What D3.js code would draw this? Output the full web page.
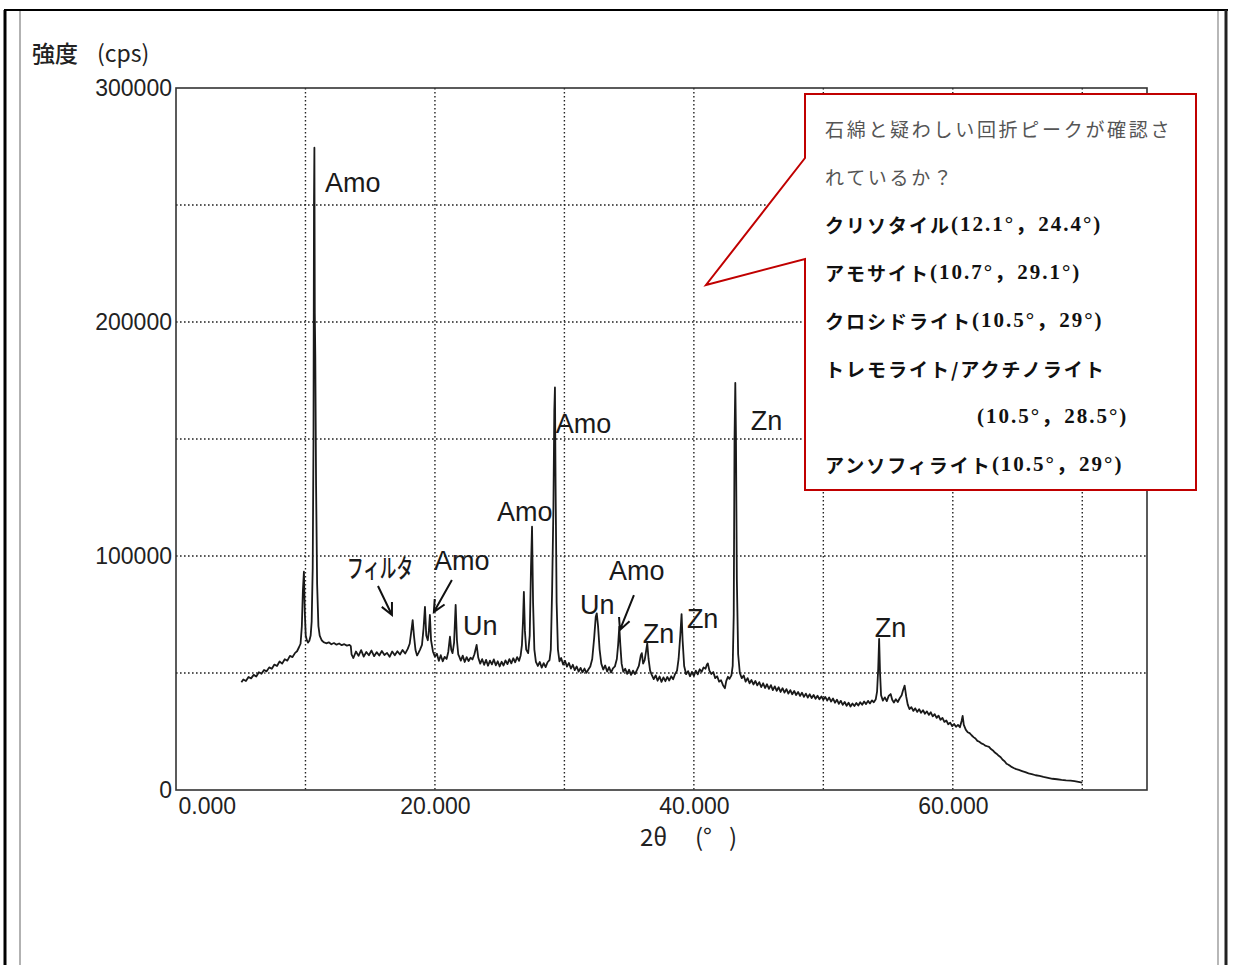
<!DOCTYPE html>
<html>
<head>
<meta charset="utf-8">
<script src="https://cdn.jsdelivr.net/npm/d3@7/dist/d3.min.js"></script>
<style>
  body { margin: 0; background: #fff; }
  svg { display: block; }
  .tick-label { font-family: "Liberation Sans", Arial, sans-serif; font-size: 23px; fill: #222; }
  .peak-label { font-family: "Liberation Sans", Arial, sans-serif; font-size: 27px; fill: #1a1a1a; }
  .note { font-family: "Noto Sans CJK JP", sans-serif; font-size: 19px; }
</style>
</head>
<body>
<div id="chart"></div>
<script>
// diffraction pattern (2theta in degrees, intensity in cps)
var twoTheta = [
  5.05,5.2,5.4,5.6,5.8,6.0,6.2,6.4,6.6,6.8,
  7.0,7.2,7.4,7.6,7.8,8.0,8.2,8.4,8.6,8.8,
  9.0,9.2,9.35,9.5,9.62,9.72,9.8,9.88,9.95,10.02,
  10.1,10.2,10.3,10.4,10.48,10.56,10.62,10.66,10.69,10.72,
  10.76,10.82,10.9,11.0,11.1,11.25,11.4,11.6,11.8,12.0,
  12.2,12.4,12.6,12.8,13.0,13.2,13.4,13.5,13.56,13.7,
  13.9,14.1,14.3,14.5,14.7,14.9,15.1,15.3,15.5,15.7,
  15.9,16.1,16.3,16.5,16.7,16.9,17.1,17.3,17.5,17.7,
  17.9,18.05,18.18,18.28,18.38,18.5,18.62,18.72,18.85,19.0,
  19.12,19.23,19.33,19.45,19.53,19.61,19.7,19.85,20.0,20.15,
  20.3,20.45,20.6,20.75,20.9,21.03,21.16,21.26,21.36,21.48,
  21.6,21.7,21.8,21.88,22.0,22.15,22.3,22.45,22.6,22.75,
  22.9,23.05,23.22,23.35,23.5,23.65,23.8,23.95,24.1,24.25,
  24.4,24.55,24.7,24.85,25.0,25.15,25.3,25.45,25.6,25.75,
  25.9,26.05,26.2,26.35,26.5,26.62,26.72,26.8,26.87,26.95,
  27.05,27.2,27.32,27.42,27.5,27.58,27.68,27.8,27.95,28.1,
  28.25,28.4,28.55,28.7,28.85,28.95,29.05,29.15,29.22,29.27,
  29.32,29.4,29.5,29.62,29.75,29.9,30.05,30.2,30.35,30.5,
  30.65,30.8,30.95,31.1,31.25,31.4,31.55,31.7,31.85,32.0,
  32.15,32.3,32.42,32.5,32.6,32.72,32.85,33.0,33.15,33.3,
  33.45,33.6,33.75,33.9,34.05,34.15,34.24,34.32,34.42,34.55,
  34.7,34.85,35.0,35.15,35.3,35.45,35.6,35.75,35.9,35.98,
  36.08,36.2,36.3,36.4,36.5,36.62,36.75,36.9,37.05,37.2,
  37.35,37.5,37.65,37.8,37.95,38.1,38.25,38.4,38.55,38.7,
  38.82,38.95,39.05,39.13,39.25,39.4,39.55,39.7,39.85,40.0,
  40.15,40.3,40.45,40.6,40.75,40.9,41.0,41.08,41.2,41.35,
  41.5,41.65,41.8,41.95,42.1,42.25,42.4,42.5,42.63,42.75,
  42.9,43.0,43.08,43.14,43.2,43.25,43.32,43.42,43.55,43.7,
  43.85,44.0,44.15,44.3,44.45,44.6,44.75,44.9,45.05,45.2,
  45.35,45.5,45.65,45.8,45.95,46.1,46.25,46.4,46.55,46.7,
  46.85,47.0,47.15,47.3,47.45,47.6,47.75,47.9,48.05,48.2,
  48.35,48.5,48.65,48.8,48.95,49.1,49.25,49.4,49.55,49.7,
  49.85,50.0,50.15,50.3,50.45,50.6,50.75,50.9,51.05,51.2,
  51.35,51.5,51.65,51.8,51.95,52.1,52.25,52.4,52.55,52.7,
  52.85,53.0,53.15,53.3,53.45,53.6,53.75,53.9,54.05,54.15,
  54.24,54.31,54.38,54.46,54.6,54.75,54.9,55.05,55.2,55.32,
  55.45,55.6,55.75,55.9,56.05,56.15,56.28,56.4,56.52,56.65,
  56.8,56.95,57.1,57.25,57.4,57.55,57.7,57.85,58.0,58.15,
  58.3,58.45,58.6,58.75,58.9,59.05,59.2,59.35,59.5,59.65,
  59.8,59.95,60.1,60.25,60.4,60.55,60.68,60.76,60.85,61.0,
  61.15,61.3,61.45,61.6,61.75,61.9,62.05,62.2,62.35,62.5,
  62.65,62.8,62.95,63.1,63.25,63.4,63.55,63.7,63.85,64.0,
  64.15,64.3,64.5,64.7,64.9,65.1,65.35,65.6,65.85,66.1,
  66.4,66.7,67.0,67.35,67.7,68.05,68.4,68.75,69.1,69.4,
  69.7,70.0
];
var intensity = [
  46000,47200,46600,48300,47700,49200,48500,50300,49700,51300,
  50700,52400,51800,53600,53000,54900,54000,55900,55300,57300,
  56800,58600,59300,61000,62500,70000,85000,93300,76000,66000,
  64100,63000,63800,66000,72000,95000,150000,253000,274500,204000,
  185000,130000,88000,70000,66000,64000,63200,62700,63100,62300,
  62800,62100,62600,61900,62300,61700,62000,61500,58000,56400,
  59200,57300,59800,57000,59000,57600,59600,57200,58900,57500,
  59400,57700,58600,56900,59200,57600,59300,57900,59800,58300,
  60300,62500,68000,72600,66000,59800,57500,58500,60000,62000,
  69000,78300,66000,64000,68000,74800,64000,59100,57000,58200,
  55200,57600,55000,56900,56000,59000,65500,60000,58500,63000,
  79100,64000,58000,57000,55300,57400,54700,56800,55100,56500,
  55800,58000,62000,56500,54000,55900,53500,55600,53100,55300,
  53700,55800,53300,55000,52800,54800,53200,55400,53800,55900,
  54100,56300,54600,56800,55200,57500,62000,72000,84700,68000,
  60000,58500,66000,95000,112500,80000,60000,54800,53000,54700,
  52300,54200,52500,54600,55500,60000,85000,120000,162000,172000,
  130000,80000,60000,55000,56400,53600,55200,52700,54300,51900,
  53500,51200,52800,50600,52200,50300,51900,50100,51500,52800,
  56000,65000,74000,75500,70000,60000,54000,51500,53200,50600,
  52500,50200,52000,52800,56000,62000,69800,62000,54000,50500,
  51800,49600,51400,49200,51000,49500,51200,53000,57500,58500,
  54000,55500,59000,62700,56000,51000,49200,47400,49000,46700,
  48500,46200,48100,46500,48300,46800,48600,47300,49600,51000,
  56000,66000,75200,64000,53000,49500,50800,48600,50500,48800,
  51000,49400,51600,50500,52400,51800,53500,54100,51000,49600,
  50400,47800,48600,46300,46900,44800,43500,46500,48400,47500,
  49000,53000,75000,150000,174000,152000,90000,58000,50000,47800,
  48900,46300,47800,45600,47000,45100,46600,44700,46100,44000,
  45600,43600,45200,43200,44800,42700,44300,42400,43900,41900,
  43500,41600,43100,41200,42700,40900,42300,40600,41900,40200,
  41600,39800,41200,39500,40900,39300,40600,39000,40300,38800,
  40000,38600,39800,38200,39500,37800,39100,37300,38600,36800,
  38100,36400,37600,36000,37300,35700,37000,35900,37200,36100,
  37500,36400,37800,36700,38100,37000,38300,37500,38800,42000,
  52000,64600,50000,40500,38200,39600,38000,40200,41000,38600,
  37400,38800,37600,39200,40500,42500,44600,40000,36500,34600,
  35400,33800,34900,33400,34500,33000,34100,32600,33600,32100,
  33200,31500,32400,30800,31800,30000,30800,29100,29700,28100,
  28800,27300,28200,27000,27800,26800,29500,31700,27800,25800,
  24700,24300,23400,22600,22000,21000,20600,19900,19600,19000,
  18700,18400,17500,16900,16000,15400,14600,14000,12900,12300,
  11200,10800,10000,9400,8900,8600,8100,7600,7100,6800,
  6300,6000,5600,5200,4800,4600,4300,4100,4000,3800,
  3500,3100
];

// axes
var xTicks = [0, 20, 40, 60];
var xGrid = [10, 20, 30, 40, 50, 60, 70];
var yTicks = [0, 100000, 200000, 300000];
var yGrid = [50000, 100000, 150000, 200000, 250000];

// hand-written peak annotations (label anchor in 2theta / cps)
var peakNames = ["Amo", "Amo", "Zn", "Amo", "Amo", "フィルタ", "Un", "Un", "Amo", "Zn", "Zn", "Zn"];
var peakTheta = [11.51, 29.34, 44.4, 24.79, 19.92, 13.2, 22.16, 31.2, 33.44, 36.06, 39.46, 53.98];
var peakCps   = [255600, 152600, 153800, 115000, 94000, 90600, 66200, 75200, 89700, 62800, 69200, 65400];

// arrows: from (theta, cps) to (theta, cps)
var arrowFromTheta = [15.6, 21.31, 35.37];
var arrowFromCps   = [87200, 89700, 83300];
var arrowToTheta   = [16.68, 19.92, 34.29];
var arrowToCps     = [74800, 76100, 68400];

// callout note
var noteLines = [
  "石綿と疑わしい回折ピークが確認さ",
  "れているか？",
  "クリソタイル(12.1°，24.4°)",
  "アモサイト(10.7°，29.1°)",
  "クロシドライト(10.5°，29°)",
  "トレモライト/アクチノライト",
  "(10.5°，28.5°)",
  "アンソフィライト(10.5°，29°)"
];

var W = 1234, H = 965;
var margin = {top: 88, right: 87, bottom: 175, left: 176},
    width = W - margin.left - margin.right,
    height = H - margin.top - margin.bottom;

var svg = d3.select("#chart").append("svg")
    .attr("width", W)
    .attr("height", H);

svg.append("rect").attr("width", W).attr("height", H).attr("fill", "#fff");

// page frame (scanned sheet edges)
svg.append("line").attr("x1", 4).attr("x2", 1228).attr("y1", 10).attr("y2", 10)
    .attr("stroke", "#000").attr("stroke-width", 2);
svg.append("line").attr("x1", 5).attr("x2", 5).attr("y1", 10).attr("y2", H)
    .attr("stroke", "#000").attr("stroke-width", 3);
svg.append("line").attr("x1", 20).attr("x2", 20).attr("y1", 11).attr("y2", H)
    .attr("stroke", "#999").attr("stroke-width", 1.5);
svg.append("line").attr("x1", 1218).attr("x2", 1218).attr("y1", 11).attr("y2", H)
    .attr("stroke", "#888").attr("stroke-width", 1.2);
svg.append("line").attr("x1", 1226).attr("x2", 1226).attr("y1", 10).attr("y2", H)
    .attr("stroke", "#222").attr("stroke-width", 3);

var g = svg.append("g")
    .attr("transform", "translate(" + margin.left + "," + margin.top + ")");

var x = d3.scaleLinear().domain([0, 75]).range([0, width]);
var y = d3.scaleLinear().domain([0, 300000]).range([height, 0]);

// dotted grid
g.selectAll(".vgrid").data(xGrid).enter().append("line")
    .attr("class", "vgrid")
    .attr("x1", function(d) { return x(d); })
    .attr("x2", function(d) { return x(d); })
    .attr("y1", 0).attr("y2", height)
    .attr("stroke", "#222").attr("stroke-width", 1.4)
    .attr("stroke-dasharray", "1.6,2.4");

g.selectAll(".hgrid").data(yGrid).enter().append("line")
    .attr("class", "hgrid")
    .attr("x1", 0).attr("x2", width)
    .attr("y1", function(d) { return y(d); })
    .attr("y2", function(d) { return y(d); })
    .attr("stroke", "#222").attr("stroke-width", 1.4)
    .attr("stroke-dasharray", "1.6,2.4");

// plot frame
g.append("rect")
    .attr("width", width).attr("height", height)
    .attr("fill", "none").attr("stroke", "#333").attr("stroke-width", 1.6);

// axes
var xAxis = g.append("g")
    .attr("transform", "translate(0," + height + ")")
    .call(d3.axisBottom(x).tickValues(xTicks).tickSize(0).tickPadding(8)
        .tickFormat(d3.format(".3f")));
xAxis.select(".domain").remove();
xAxis.selectAll("text").attr("class", "tick-label").attr("font-size", null).attr("font-family", null);
xAxis.selectAll("text").filter(function(d) { return d === 0; })
    .attr("text-anchor", "start").attr("x", 2);

var yAxis = g.append("g")
    .call(d3.axisLeft(y).tickValues(yTicks).tickSize(0).tickPadding(4)
        .tickFormat(d3.format("d")));
yAxis.select(".domain").remove();
yAxis.selectAll("text").attr("class", "tick-label").attr("font-size", null).attr("font-family", null);

// axis titles
var yTitle = svg.append("text")
    .attr("y", 62)
    .style("font-family", "'Noto Sans CJK JP', sans-serif")
    .style("font-size", "23px")
    .style("fill", "#222");
yTitle.append("tspan").attr("x", 32).style("font-weight", 500).text("強度");
yTitle.append("tspan").attr("x", 97).text("(cps)");

var xTitle = svg.append("text")
    .attr("y", 846)
    .style("font-family", "'Noto Sans CJK JP', sans-serif")
    .style("font-size", "24px")
    .style("fill", "#222");
xTitle.append("tspan").attr("x", 640).text("2θ");
xTitle.append("tspan").attr("x", 695).text("(°");
xTitle.append("tspan").attr("x", 729).text(")");

// the pattern
var pattern = twoTheta.map(function(t, i) { return {t: t, v: intensity[i]}; });
var line = d3.line()
    .x(function(d) { return x(d.t); })
    .y(function(d) { return y(d.v); });

g.append("path")
    .datum(pattern)
    .attr("d", line)
    .attr("fill", "none")
    .attr("stroke", "#1a1a1a")
    .attr("stroke-width", 1.8)
    .attr("stroke-linejoin", "round");

// peak labels
peakNames.forEach(function(name, i) {
    var px = x(peakTheta[i]), py = y(peakCps[i]);
    if (name === "フィルタ") {
        // hand-lettered and squeezed in the scan
        g.append("text")
            .attr("transform", "translate(" + px + "," + py + ") scale(0.64,1)")
            .style("font-family", "'Noto Sans CJK JP', sans-serif")
            .style("font-size", "26px")
            .style("font-weight", 500)
            .style("fill", "#1a1a1a")
            .text(name);
    } else {
        g.append("text")
            .attr("class", "peak-label")
            .attr("x", px)
            .attr("y", py)
            .text(name);
    }
});

// arrows
arrowFromTheta.forEach(function(d, i) {
    var x1 = x(arrowFromTheta[i]), y1 = y(arrowFromCps[i]),
        x2 = x(arrowToTheta[i]), y2 = y(arrowToCps[i]);
    var ang = Math.atan2(y2 - y1, x2 - x1), len = 13, spread = 0.45;
    var p = d3.path();
    p.moveTo(x1, y1); p.lineTo(x2, y2);
    p.moveTo(x2 - len * Math.cos(ang - spread), y2 - len * Math.sin(ang - spread));
    p.lineTo(x2, y2);
    p.lineTo(x2 - len * Math.cos(ang + spread), y2 - len * Math.sin(ang + spread));
    g.append("path").attr("d", p.toString())
        .attr("fill", "none").attr("stroke", "#111").attr("stroke-width", 2);
});

// callout box
var box = {x: 805, y: 94, w: 391, h: 396};
svg.append("path")
    .attr("d", "M" + box.x + "," + box.y + "H" + (box.x + box.w) + "V" + (box.y + box.h) +
        "H" + box.x + "V259L706,285L" + box.x + ",158Z")
    .attr("fill", "#fff")
    .attr("stroke", "#c00000")
    .attr("stroke-width", 2);

noteLines.forEach(function(txt, i) {
    var t = svg.append("text")
        .attr("class", "note")
        .attr("x", i === 6 ? 977 : 825)
        .attr("y", 128 + 48 * i)
        .attr("dominant-baseline", "central");
    if (i < 2) {
        t.style("fill", "#555").style("letter-spacing", "2.7px").text(txt);
        return;
    }
    t.style("fill", "#111").style("font-weight", "bold");
    var cut = txt.indexOf("(");
    var name = cut < 0 ? txt : txt.slice(0, cut);
    var angles = cut < 0 ? "" : txt.slice(cut);
    if (name) {
        t.append("tspan").style("letter-spacing", "2px").text(name);
    }
    if (angles) {
        t.append("tspan")
            .style("font-family", "'Liberation Serif', 'Noto Sans CJK JP', serif")
            .style("font-size", "21px")
            .style("letter-spacing", "2px")
            .text(angles);
    }
});
</script>
</body>
</html>
